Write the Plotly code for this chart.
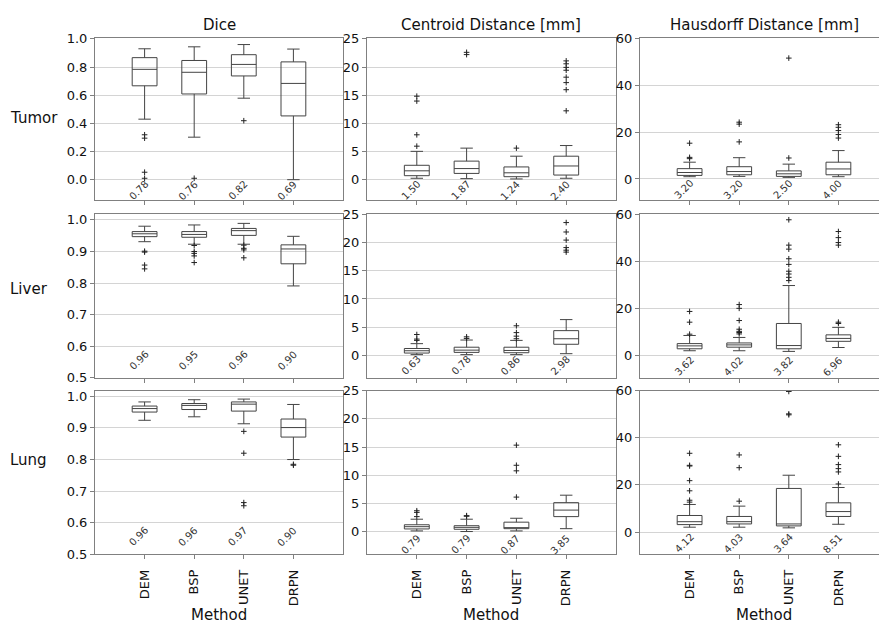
import plotly.graph_objects as go

methods = ["DEM", "BSP", "UNET", "DRPN"]
positions = [1, 2, 3, 4]
row_names = ["Tumor", "Liver", "Lung"]
col_titles = ["Dice", "Centroid Distance [mm]", "Hausdorff Distance [mm]"]

# five-number summaries per method: [lower whisker, q1, median, q3, upper whisker]
tumor_dice = [[0.43, 0.667, 0.784, 0.867, 0.93], [0.302, 0.609, 0.763, 0.847, 0.944],
              [0.579, 0.737, 0.819, 0.888, 0.96], [0.0, 0.453, 0.684, 0.837, 0.928]]
tumor_dice_out = [[0.319, 0.295, 0.053, 0.01], [0.01], [0.419], []]
tumor_dice_lbl = ["0.78", "0.76", "0.82", "0.69"]

tumor_cent = [[0.29, 0.75, 1.61, 2.59, 5.06], [0.23, 1.15, 2.01, 3.33, 5.63],
              [0.17, 0.57, 1.26, 2.3, 4.2], [0.29, 0.86, 2.47, 4.2, 6.09]]
tumor_cent_out = [[5.98, 7.99, 13.97, 14.83], [22.2, 22.6], [5.63],
                  [12.24, 15.98, 17.24, 18.2, 19.43, 19.94, 20.57, 21.09]]
tumor_cent_lbl = ["1.50", "1.87", "1.24", "2.40"]

tumor_haus = [[0.97, 1.52, 2.76, 4.41, 7.17], [1.1, 1.79, 3.17, 5.24, 9.1],
              [0.69, 1.1, 2.2, 3.45, 6.34], [0.97, 1.79, 4.28, 7.17, 12.14]]
tumor_haus_out = [[8.69, 9.24, 15.3], [15.86, 23.45, 24.28], [8.97, 51.7],
                  [17.5, 19.0, 20.7, 22.1, 23.2]]
tumor_haus_lbl = ["3.20", "3.20", "2.50", "4.00"]

liver_dice = [[0.931, 0.947, 0.956, 0.963, 0.98], [0.923, 0.945, 0.954, 0.963, 0.984],
              [0.923, 0.951, 0.966, 0.973, 0.989], [0.791, 0.861, 0.908, 0.921, 0.948]]
liver_dice_out = [[0.901, 0.898, 0.857, 0.845], [0.919, 0.90, 0.894, 0.886, 0.865],
                  [0.92, 0.91, 0.905, 0.88], []]
liver_dice_lbl = ["0.96", "0.95", "0.96", "0.90"]

liver_cent = [[0.12, 0.40, 0.81, 1.21, 2.07], [0.12, 0.52, 0.92, 1.44, 2.71],
              [0.12, 0.46, 0.86, 1.44, 2.65], [0.29, 1.96, 2.94, 4.38, 6.34]]
liver_cent_out = [[2.65, 2.88, 3.69], [3.0, 3.28], [2.94, 3.4, 4.03, 5.24],
                  [18.32, 18.66, 19.12, 20.45, 21.89, 23.56]]
liver_cent_lbl = ["0.63", "0.78", "0.86", "2.98"]

liver_haus = [[1.94, 2.77, 4.01, 4.98, 8.44], [1.94, 3.46, 4.43, 5.26, 7.6],
              [1.66, 2.77, 4.15, 13.55, 29.7], [3.32, 5.95, 7.19, 8.71, 11.9]]
liver_haus_out = [[8.99, 14.1, 18.67], [9.1, 9.7, 10.2, 11.1, 14.8, 20.0, 21.6],
                  [31.8, 33.2, 34.6, 35.8, 38.7, 41.1, 45.2, 46.9, 57.7],
                  [13.55, 14.1, 46.9, 48.0, 50.1, 52.7]]
liver_haus_lbl = ["3.62", "4.02", "3.82", "6.96"]

lung_dice = [[0.924, 0.95, 0.961, 0.969, 0.982], [0.935, 0.958, 0.971, 0.977, 0.989],
             [0.913, 0.953, 0.975, 0.982, 0.991], [0.80, 0.871, 0.901, 0.928, 0.974]]
lung_dice_out = [[], [], [0.889, 0.82, 0.664, 0.654], [0.782, 0.785]]
lung_dice_lbl = ["0.96", "0.96", "0.97", "0.90"]

lung_cent = [[0.17, 0.52, 0.92, 1.26, 2.24], [0.06, 0.46, 0.80, 1.09, 2.24],
             [0.17, 0.57, 0.75, 1.72, 2.41], [0.57, 2.7, 3.85, 5.17, 6.49]]
lung_cent_out = [[2.7, 3.45, 3.74], [2.76, 2.87], [6.15, 10.8, 11.78, 15.34], []]
lung_cent_lbl = ["0.79", "0.79", "0.87", "3.85"]

lung_haus = [[2.07, 3.17, 4.41, 7.03, 11.7], [2.07, 3.45, 4.41, 6.62, 11.0],
             [1.79, 2.62, 3.45, 18.5, 24.1], [3.31, 6.62, 8.69, 12.4, 18.9]]
lung_haus_out = [[12.7, 13.5, 17.5, 21.8, 28.0, 28.3, 33.4], [13.1, 27.3, 32.7],
                 [49.7, 50.1, 59.6], [20.4, 25.5, 26.9, 28.6, 32.1, 37.0]]
lung_haus_lbl = ["4.12", "4.03", "3.64", "8.51"]

panels = [
    [(tumor_dice, tumor_dice_out, tumor_dice_lbl), (tumor_cent, tumor_cent_out, tumor_cent_lbl),
     (tumor_haus, tumor_haus_out, tumor_haus_lbl)],
    [(liver_dice, liver_dice_out, liver_dice_lbl), (liver_cent, liver_cent_out, liver_cent_lbl),
     (liver_haus, liver_haus_out, liver_haus_lbl)],
    [(lung_dice, lung_dice_out, lung_dice_lbl), (lung_cent, lung_cent_out, lung_cent_lbl),
     (lung_haus, lung_haus_out, lung_haus_lbl)],
]

# layout (pixels)
W, H = 879, 623
col_px = [(95, 343), (367, 616), (640, 879)]
row_px = [(32, 198), (212, 380), (393, 561)]
y_ranges = [
    [[-0.146, 1.005], [-3.6, 25.1], [-9.1, 60.2]],
    [[0.5, 1.019], [-4.0, 25.1], [-9.6, 60.2]],
    [[0.5, 1.018], [-4.0, 25.0], [-9.5, 60.0]],
]
y_ticks = [
    [[0.0, 0.2, 0.4, 0.6, 0.8, 1.0], [0, 5, 10, 15, 20, 25], [0, 20, 40, 60]],
    [[0.5, 0.6, 0.7, 0.8, 0.9, 1.0], [0, 5, 10, 15, 20, 25], [0, 20, 40, 60]],
    [[0.5, 0.6, 0.7, 0.8, 0.9, 1.0], [0, 5, 10, 15, 20, 25], [0, 20, 40, 60]],
]
lbl_frac = [[0.06, 0.06, 0.066], [0.107, 0.077, 0.072], [0.107, 0.06, 0.07]]

FONT = "DejaVu Sans"
BOX_C = "#444444"
AX_C = "#808080"
GRID_C = "#d4d4d4"

fig = go.Figure()
annotations = []
layout_axes = {}

for r in range(3):
    for c in range(3):
        k = r * 3 + c
        suf = "" if k == 0 else str(k + 1)
        stats, outs, lbls = panels[r][c]
        fig.add_trace(go.Box(
            x=positions,
            lowerfence=[s[0] for s in stats],
            q1=[s[1] for s in stats],
            median=[s[2] for s in stats],
            q3=[s[3] for s in stats],
            upperfence=[s[4] for s in stats],
            width=0.5, whiskerwidth=0.5,
            line=dict(color=BOX_C, width=1),
            fillcolor="rgba(0,0,0,0)",
            boxpoints=False, hoverinfo="skip", showlegend=False,
            xaxis="x" + suf, yaxis="y" + suf,
        ))
        ox, oy = [], []
        for p, vals in zip(positions, outs):
            for v in vals:
                ox.append(p)
                oy.append(v)
        fig.add_trace(go.Scatter(
            x=ox, y=oy, mode="markers",
            marker=dict(symbol="cross-thin", size=4, line=dict(color="#222222", width=1)),
            hoverinfo="skip", showlegend=False,
            xaxis="x" + suf, yaxis="y" + suf,
        ))
        for p, t in zip(positions, lbls):
            annotations.append(dict(
                x=p, y=lbl_frac[r][c], xref="x" + suf, yref="y" + suf + " domain",
                text=t, showarrow=False, textangle=-45, xshift=-6,
                xanchor="center", yanchor="middle",
                font=dict(family=FONT, size=10, color="#333333"),
            ))
        x0, x1 = col_px[c]
        y0, y1 = row_px[r]
        span = 5.0 if c < 2 else (x1 - x0) / 49.6
        layout_axes["xaxis" + suf] = dict(
            domain=[x0 / W, x1 / W], anchor="y" + suf, range=[0, span],
            tickvals=positions, ticktext=methods if r == 2 else ["", "", "", ""],
            showticklabels=(r == 2), tickangle=-90,
            ticks="outside", ticklen=4, tickcolor=AX_C, ticklabelstandoff=5,
            showline=True, linecolor=AX_C, linewidth=1, mirror=True,
            showgrid=False, zeroline=False,
            tickfont=dict(family=FONT, size=13, color="#111111"),
        )
        layout_axes["yaxis" + suf] = dict(
            domain=[(H - y1) / H, (H - y0) / H], anchor="x" + suf,
            range=y_ranges[r][c], tickvals=y_ticks[r][c],
            tickformat=".1f" if c == 0 else "d",
            ticks="outside", ticklen=4, tickcolor=AX_C,
            showline=True, linecolor=AX_C, linewidth=1, mirror=(c < 2),
            showgrid=True, gridcolor=GRID_C, gridwidth=1, zeroline=False,
            tickfont=dict(family=FONT, size=13, color="#111111"),
        )

# column titles
for c, t in enumerate(col_titles):
    x0, x1 = col_px[c]
    xc = (x0 + 248 / 2) / W
    annotations.append(dict(x=xc, y=(H - 18) / H, xref="paper", yref="paper", text=t,
                            showarrow=False, xanchor="center", yanchor="middle",
                            font=dict(family=FONT, size=15, color="#111111")))
    annotations.append(dict(x=xc, y=(H - 623.5) / H, xref="paper", yref="paper", text="Method",
                            showarrow=False, xanchor="center", yanchor="middle",
                            font=dict(family=FONT, size=15, color="#111111")))

# row labels
row_label_y = [114, 289, 464]
for r, name in enumerate(row_names):
    annotations.append(dict(x=8 / W, y=(H - row_label_y[r]) / H, xref="paper", yref="paper",
                            text=name, showarrow=False, xanchor="left", yanchor="middle",
                            font=dict(family=FONT, size=15, color="#111111")))

fig.update_layout(
    width=W, height=H, margin=dict(l=0, r=0, t=0, b=0),
    paper_bgcolor="white", plot_bgcolor="white",
    annotations=annotations, showlegend=False,
    font=dict(family=FONT),
    **layout_axes,
)

fig.write_html("out.html")
